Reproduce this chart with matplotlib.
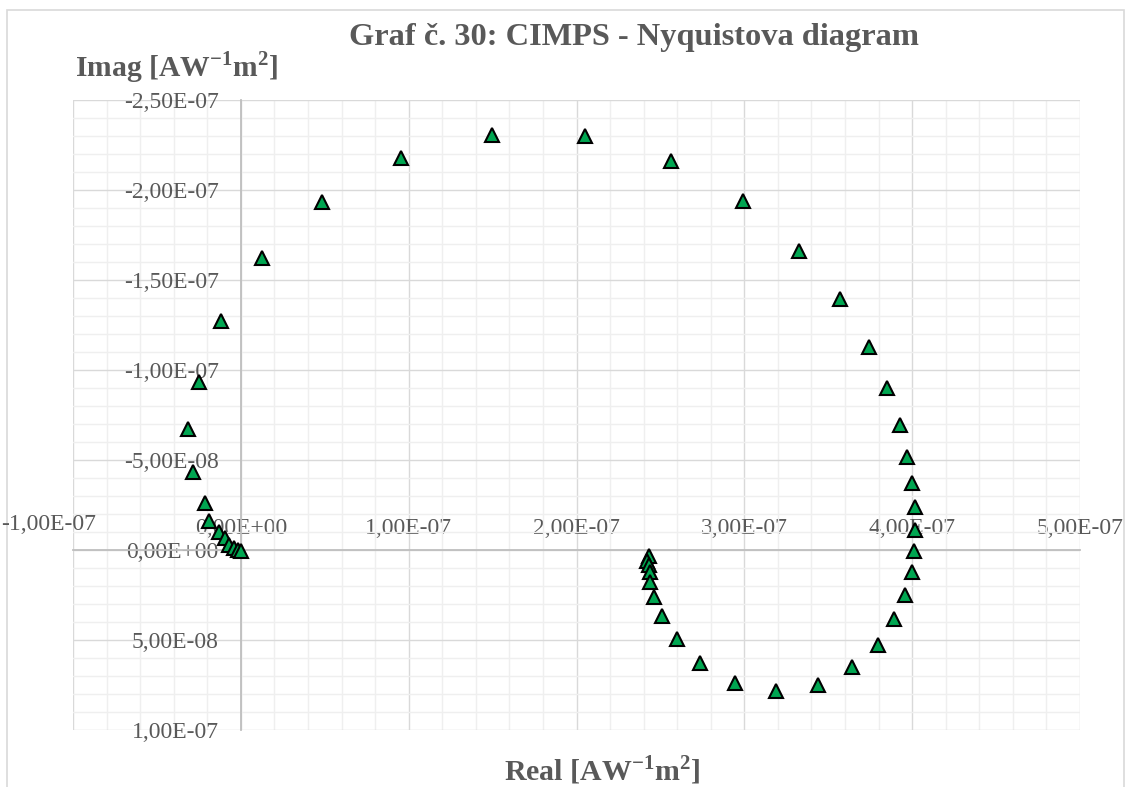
import numpy as np
import matplotlib
matplotlib.use("Agg")
import matplotlib.pyplot as plt
from matplotlib.ticker import MultipleLocator, FuncFormatter
from matplotlib.patches import Rectangle

# CIMPS data, values in units of 1e-9 AW^-1m^2
real = [242.9, 242.3, 242.9, 243.5, 244.0, 246.4, 251.2, 260.1, 273.8, 294.6,
        319.0, 344.0, 364.3, 379.8, 389.3, 395.8, 400.0, 401.2, 401.8, 401.8,
        400.0, 397.0, 392.9, 385.1, 374.4, 357.1, 332.7, 299.4, 256.5, 204.8,
        149.4, 95.2, 48.2, 12.5, -11.9, -25.0, -31.5, -28.6, -21.4, -19.0,
        -13.1, -9.5, -7.1, -4.2, -1.8, 0.0]
imag = [3.3, 6.1, 8.3, 12.2, 17.7, 26.0, 36.5, 49.2, 63.0, 74.0,
        78.5, 75.1, 65.2, 52.5, 38.1, 24.9, 12.2, 0.6, -11.0, -23.8,
        -37.0, -51.9, -69.6, -90.1, -112.7, -139.2, -166.3, -193.9, -216.0, -229.8,
        -230.4, -217.7, -193.4, -162.4, -127.1, -93.4, -67.4, -43.1, -26.0, -16.0,
        -9.9, -6.6, -2.8, -1.1, 0.0, 0.6]

x = np.array(real) * 1e-9
y = np.array(imag) * 1e-9

plt.rcParams['font.family'] = ['Liberation Serif', 'DejaVu Serif']
plt.rcParams['mathtext.fontset'] = 'custom'
plt.rcParams['mathtext.rm'] = 'Liberation Serif'
plt.rcParams['mathtext.bf'] = 'Liberation Serif:bold'

txt = '#595959'

fig = plt.figure(figsize=(11.31, 7.87), dpi=100)
ax = fig.add_axes([73/1131, 57/787, 1007/1131, 630/787])

ax.set_xlim(-1e-7, 5e-7)
ax.set_ylim(1e-7, -2.5e-7)  # reversed: negative imag up

ax.xaxis.set_major_locator(MultipleLocator(1e-7))
ax.xaxis.set_minor_locator(MultipleLocator(2e-8))
ax.yaxis.set_major_locator(MultipleLocator(5e-8))
ax.yaxis.set_minor_locator(MultipleLocator(1e-8))

def fmt(v, pos=None):
    if abs(v) < 1e-15:
        v = 0.0
    return ("%.2E" % v).replace('.', ',')

def fmt_x(v, pos):
    # first label is pushed inside the chart area, drawn separately
    if v < -0.99e-7:
        return ''
    return fmt(v)

ax.xaxis.set_major_formatter(FuncFormatter(fmt_x))
ax.yaxis.set_major_formatter(FuncFormatter(fmt))

ax.grid(which='major', color='#d9d9d9', lw=1.0)
ax.grid(which='minor', color='#efefef', lw=1.0)
ax.set_axisbelow(True)

for s in ['right', 'bottom']:
    ax.spines[s].set_visible(False)
ax.spines['left'].set_position(('data', 0))
ax.spines['top'].set_position(('data', 0))
for s in ['left', 'top']:
    ax.spines[s].set_color('#bfbfbf')
    ax.spines[s].set_linewidth(1.3)

ax.tick_params(axis='x', which='both', top=True, bottom=False, labeltop=True,
               labelbottom=False, length=0, pad=8, labelsize=17, labelcolor=txt)
ax.tick_params(axis='y', which='both', length=0, pad=16, labelsize=17, labelcolor=txt)

# left-most x label, kept inside the figure
fig.text(1/1131, 1-525/787, fmt(-1e-7), fontsize=17, color=txt,
         ha='left', va='center')

ax.plot(x, y, linestyle='none', marker='^', ms=10, mfc='#00a651', mec='black',
        mew=1.5, zorder=5)

fig.text(634/1131, 1-37/787, 'Graf č. 30: CIMPS - Nyquistova diagram',
         ha='center', va='center', fontsize=23.3, fontweight='bold', color=txt)
fig.text(75/1131, 1-68/787, r'Imag [AW$^{\mathbf{-1}}$m$^{\mathbf{2}}$]',
         ha='left', va='center', fontsize=21.3, fontweight='bold', color=txt)
fig.text(602/1131, 1-770/787, r'Real [AW$^{\mathbf{-1}}$m$^{\mathbf{2}}$]',
         ha='center', va='center', fontsize=21.5, fontweight='bold', color=txt)

fig.patches.append(Rectangle((7/1131, -0.02), 1117/1131, 1-10/787+0.02,
                             transform=fig.transFigure, fill=False,
                             edgecolor='#d9d9d9', lw=1.2))

fig.savefig('out.png', dpi=100)
